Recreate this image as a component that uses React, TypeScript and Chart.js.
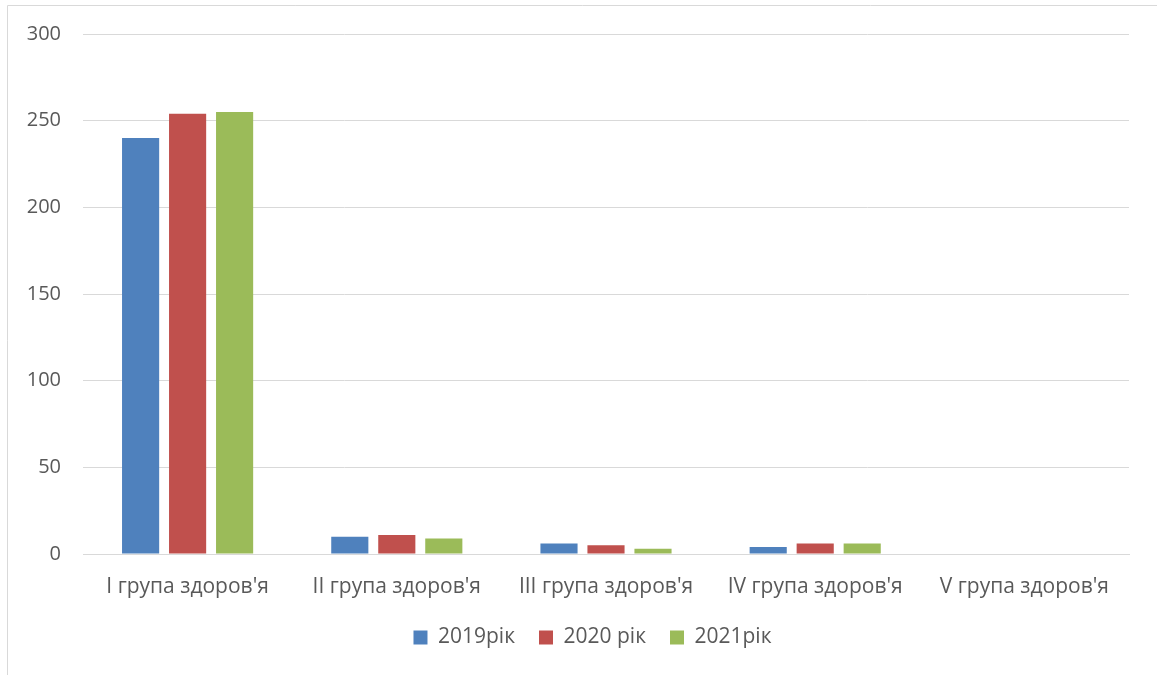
import React, { useEffect, useRef } from "react";
import { Chart, registerables } from "chart.js";

Chart.register(...registerables);

const categories = [
  "I група здоров'я",
  "II група здоров'я",
  "III група здоров'я",
  "IV група здоров'я",
  "V група здоров'я",
];
const seriesLabels = ["2019рік", "2020 рік", "2021рік"];
const values2019 = [240, 10, 6, 4, 0];
const values2020 = [254, 11, 5, 6, 0];
const values2021 = [255, 9, 3, 6, 0];
const colors = ["#4f81bd", "#c0504d", "#9bbb59"];

const FONT = "'Open Sans', sans-serif";
const TEXT = "#595959";

const borderPlugin = {
  id: "outerBorder",
  beforeDraw(chart: any) {
    const ctx = chart.ctx;
    ctx.save();
    ctx.strokeStyle = "#d9d9d9";
    ctx.lineWidth = 1;
    ctx.beginPath();
    ctx.moveTo(7.5, 680);
    ctx.lineTo(7.5, 5.5);
    ctx.lineTo(1160, 5.5);
    ctx.stroke();
    ctx.restore();
  },
};

// shifts the legend so that it is centred under the whole frame, as in the reference
const legendShift = {
  id: "legendShift",
  afterLayout(chart: any) {
    const lg = chart.legend;
    if (!lg || lg.__shifted) return;
    const orig = lg.draw.bind(lg);
    lg.draw = function (...args: any[]) {
      const ctx = chart.ctx;
      ctx.save();
      ctx.translate(28, 0);
      orig(...args);
      ctx.restore();
    };
    lg.__shifted = true;
  },
};

export default function App() {
  const ref = useRef<HTMLCanvasElement>(null);
  useEffect(() => {
    if (!ref.current) return;
    const data = [values2019, values2020, values2021];
    const chart = new Chart(ref.current, {
      type: "bar",
      data: {
        labels: categories,
        datasets: seriesLabels.map((l, i) => ({
          label: l,
          data: data[i],
          backgroundColor: colors[i],
          borderWidth: 0,
          categoryPercentage: 0.674,
          barPercentage: 0.79,
        })),
      },
      options: {
        animation: false,
        responsive: false,
        devicePixelRatio: 1,
        layout: { padding: { top: 34, right: 28, left: 0, bottom: 17 } },
        plugins: {
          tooltip: { enabled: false },
          legend: {
            position: "bottom",
            labels: {
              boxWidth: 14,
              boxHeight: 14,
              padding: 24,
              color: TEXT,
              font: { family: FONT, size: 21 },
            },
          },
        },
        scales: {
          x: {
            grid: { display: false },
            border: { color: "#d9d9d9", width: 1 },
            ticks: { color: TEXT, font: { family: FONT, size: 21 }, padding: 12 },
            afterFit: (s: any) => {
              s.height = 49;
            },
          },
          y: {
            min: 0,
            max: 300,
            ticks: {
              stepSize: 50,
              color: TEXT,
              font: { family: FONT, size: 20 },
              padding: 22,
            },
            grid: { color: "#d9d9d9", drawTicks: false },
            border: { display: false },
            afterFit: (s: any) => {
              s.width = 83;
            },
          },
        },
      },
      plugins: [borderPlugin, legendShift],
    });
    return () => chart.destroy();
  }, []);
  return (
    <div style={{ position: "fixed", left: 0, top: 0, width: 1157, height: 675, background: "#fff" }}>
      <canvas ref={ref} width={1157} height={675} style={{ width: 1157, height: 675, display: "block" }} />
    </div>
  );
}
